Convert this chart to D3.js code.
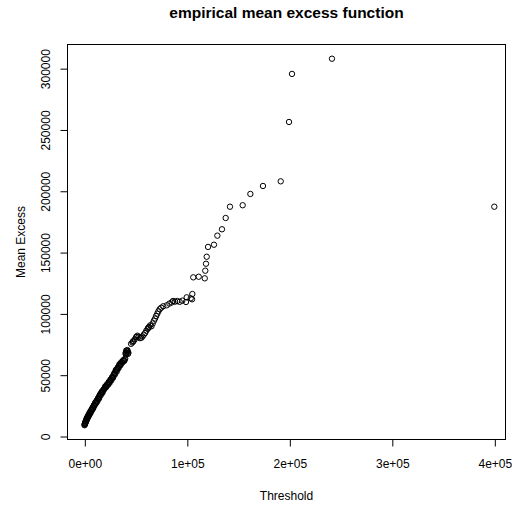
<!DOCTYPE html>
<html>
<head>
<meta charset="utf-8">
<script src="https://cdn.jsdelivr.net/npm/d3@7"></script>
<style>
  html, body { margin: 0; padding: 0; background: #fff; }
  svg { display: block; }
  text { font-family: "Liberation Sans", Arial, sans-serif; fill: #000; }
</style>
</head>
<body>
<div id="chart"></div>
<script>
// Empirical mean excess: threshold u vs. mean of (X - u | X > u)
const thresholds = [
  200, 300, 500, 600, 800, 900, 1100, 1200, 1400, 1500,
  1700, 1900, 2100, 2300, 2500, 2700, 2900, 3100, 3300, 3500,
  3800, 4000, 4300, 4500, 4800, 5000, 5300, 5500, 5800, 6100,
  6400, 6600, 7000, 7200, 7500, 7800, 8100, 8400, 8700, 9000,
  9300, 9600, 10000, 10300, 10700, 11000, 11400, 11700, 12100, 12400,
  12800, 13200, 13600, 14000, 14400, 14800, 15200, 15600, 16000, 16500,
  16900, 17300, 17700, 18200, 18600, 19000, 19500, 19900, 20400, 20800,
  21200, 21600, 22000, 22500, 23000, 23400, 23800, 24200, 24600, 25100,
  25500, 26000, 26400, 26800, 27200, 27700, 28100, 28600, 29000, 29500,
  29900, 30300, 30800, 31200, 31600, 32100, 32500, 33000, 33400, 33900,
  34300, 34800, 35200, 35700, 36100, 36600, 37000, 37500, 38000, 38400,
  38900, 39400, 39900,
  40200, 40500, 40800, 41000, 41300, 41600, 42000, 42300, 42700, 43000,
  45600, 46900, 47400, 48000, 49200, 50500, 51100, 51800, 53000, 54300,
  55600, 56800, 58000, 59300, 60500, 61800, 62400, 63000, 64200, 65500,
  66700, 67900, 69000, 70100, 71200, 72300, 73500, 75000, 77000,
  80400, 83000, 85300, 86500, 88500, 90700, 93000, 95600, 99200, 99900,
  103800, 105100, 105400, 106300, 111600, 117500, 118000, 118700, 119400, 120700,
  126500, 129800, 134300, 137900, 142100, 154500, 162000, 174300, 191600, 199700,
  202600, 241600, 400000
];
const meanExcess = [
  8800, 9200, 10100, 9800, 9900, 10500, 11600, 11000, 12300, 11800,
  11900, 12600, 14000, 13500, 13400, 14300, 15400, 15000, 14800, 15600,
  16900, 16400, 16200, 17300, 18500, 17900, 17700, 18800, 19900, 19700,
  19300, 20600, 21600, 21400, 21000, 22300, 23300, 23100, 22600, 24200,
  25000, 25300, 24800, 26400, 27100, 27300, 26600, 28200, 28800, 29100,
  28300, 30300, 31000, 31500, 30600, 32800, 33600, 34000, 33200, 35000,
  36100, 35800, 35200, 36900, 37800, 38200, 38100, 39300, 40500, 40200,
  39800, 41000, 42000, 41900, 41600, 42800, 44000, 43900, 43200, 45100,
  46000, 46200, 45400, 47100, 48100, 48300, 47600, 49700, 50800, 51300,
  50200, 52600, 53900, 53400, 52500, 54600, 55700, 56000, 55200, 57300,
  58600, 58100, 57600, 59000, 60200, 60000, 59800, 60800, 61900, 61500,
  61200, 62300, 63200,
  67600, 66500, 69600, 68200, 67100, 69500, 70100, 68800, 67000, 67900,
  75200, 76300, 77000, 77400, 78800, 80600, 81000, 81800, 80900, 79800,
  80100, 81200, 82600, 84000, 85900, 87400, 88200, 88800, 90200, 89500,
  91800, 94000, 95800, 97900, 99800, 101700, 103400, 104600, 105800,
  106600, 108000, 108900, 110100, 109600, 110100, 109400, 110400, 109300, 113100,
  112300, 111500, 115800, 129400, 129900, 128600, 134800, 140500, 146200, 154200,
  156000, 163400, 168600, 177800, 187000, 188200, 197400, 203900, 207700, 256100,
  295300, 307700, 187000
];
const xTicks = [0, 100000, 200000, 300000, 400000];
const xTickLabels = ["0e+00", "1e+05", "2e+05", "3e+05", "4e+05"];
const yTicks = [0, 50000, 100000, 150000, 200000, 250000, 300000];
const yTickLabels = ["0", "50000", "100000", "150000", "200000", "250000", "300000"];

const W = 512, H = 506;
const box = { left: 67, right: 506, top: 44, bottom: 440 };
const FONT = "Liberation Sans, Arial, sans-serif";

const data = thresholds.map((t, i) => ({ u: t, e: meanExcess[i] }));

const x = d3.scaleLinear().domain([-16900, 411400]).range([box.left, box.right]);
const y = d3.scaleLinear().domain([-3260, 319700]).range([box.bottom, box.top]);

const svg = d3.select("#chart").append("svg")
  .attr("width", W).attr("height", H);

// plot frame
svg.append("rect")
  .attr("x", box.left + 0.5).attr("y", box.top + 0.5)
  .attr("width", box.right - box.left - 1).attr("height", box.bottom - box.top - 1)
  .attr("fill", "none").attr("stroke", "#000").attr("stroke-width", 1);

// x axis
const xAxis = d3.axisBottom(x).tickValues(xTicks)
  .tickFormat((d, i) => xTickLabels[i]).tickSizeInner(7).tickSizeOuter(0);
const gx = svg.append("g").attr("transform", `translate(0.5,${box.bottom - 0.5})`).call(xAxis);
gx.select(".domain").attr("d", `M${x(xTicks[0])},0H${x(xTicks[xTicks.length - 1])}`);
gx.selectAll(".tick text").attr("font-size", 12).attr("font-family", FONT)
  .attr("y", 28).attr("dy", null);

// y axis (labels parallel to the axis)
const yAxis = d3.axisLeft(y).tickValues(yTicks)
  .tickFormat((d, i) => yTickLabels[i]).tickSizeInner(7).tickSizeOuter(0);
const gy = svg.append("g").attr("transform", `translate(${box.left + 0.5},0.5)`).call(yAxis);
gy.select(".domain").attr("d", `M0,${y(yTicks[0])}V${y(yTicks[yTicks.length - 1])}`);
gy.selectAll(".tick text")
  .attr("font-size", 12).attr("font-family", FONT)
  .attr("x", null).attr("dy", null)
  .attr("text-anchor", "middle")
  .attr("transform", "translate(-18,0) rotate(-90)");

// points
svg.append("g").selectAll("circle").data(data).join("circle")
  .attr("cx", d => x(d.u)).attr("cy", d => y(d.e)).attr("r", 2.7)
  .attr("fill", "none").attr("stroke", "#000").attr("stroke-width", 1);

// titles
svg.append("text").attr("x", (box.left + box.right) / 2).attr("y", 18)
  .attr("text-anchor", "middle").attr("font-size", 15.5).attr("font-weight", "bold")
  .text("empirical mean excess function");
svg.append("text").attr("x", (box.left + box.right) / 2).attr("y", 500)
  .attr("text-anchor", "middle").attr("font-size", 12).text("Threshold");
svg.append("text").attr("transform", `translate(25,${(box.top + box.bottom) / 2}) rotate(-90)`)
  .attr("text-anchor", "middle").attr("font-size", 12).text("Mean Excess");
</script>
</body>
</html>
